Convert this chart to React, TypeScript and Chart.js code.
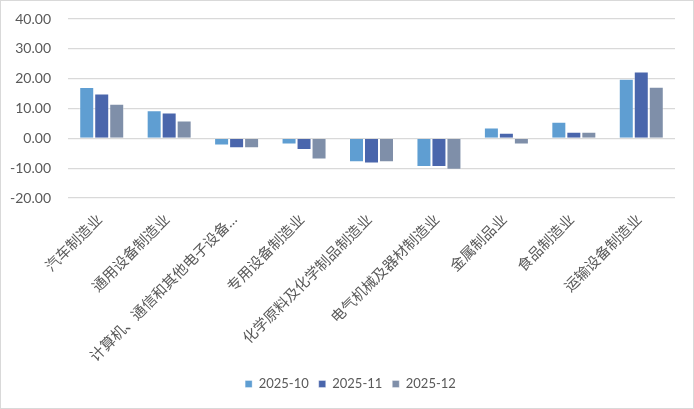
import React, { useEffect, useRef } from "react";
import { Chart, registerables } from "chart.js";

Chart.register(...registerables);

const categories = [
  "汽车制造业",
  "通用设备制造业",
  "计算机、通信和其他电子设备制造业",
  "专用设备制造业",
  "化学原料及化学制品制造业",
  "电气机械及器材制造业",
  "金属制品业",
  "食品制造业",
  "运输设备制造业",
];
const seriesNames = ["2025-10", "2025-11", "2025-12"];
const values202510 = [17.2, 9.4, -2.4, -2.1, -8.05, -9.6, 3.6, 5.6, 20.0];
const values202511 = [15.0, 8.7, -3.3, -3.9, -8.4, -9.6, 1.9, 2.2, 22.4];
const values202512 = [11.6, 6.0, -3.3, -7.1, -8.05, -10.5, -2.1, 2.2, 17.3];
const yMin = -20;
const yMax = 40;
const yStep = 10;

const colors = ["#5F9ED2", "#4A66AC", "#7F8FA9"];
const FONT = "Lato, 'Noto Sans CJK SC', sans-serif";

function truncate(s: string, n: number) {
  return s.length > n ? s.slice(0, n) + "…" : s;
}

export default function App() {
  const ref = useRef<HTMLCanvasElement | null>(null);

  useEffect(() => {
    if (!ref.current) return;
    const series = [values202510, values202511, values202512];
    const chart = new Chart(ref.current, {
      type: "bar",
      data: {
        labels: categories,
        datasets: series.map((vals, i) => ({
          label: seriesNames[i],
          data: vals,
          backgroundColor: colors[i],
          borderColor: "rgba(255,255,255,0.35)",
          borderWidth: 1,
          categoryPercentage: 0.667,
          barPercentage: 1.0,
        })),
      },
      options: {
        animation: false,
        responsive: true,
        maintainAspectRatio: false,
        layout: { padding: { left: 7, right: 0, top: 18, bottom: 7.5 } },
        plugins: {
          tooltip: { enabled: false },
          legend: {
            position: "bottom",
            labels: {
              boxWidth: 7,
              boxHeight: 7,
              padding: 10,
              color: "#595959",
              font: { family: FONT, size: 13 },
            },
          },
        },
        scales: {
          x: {
            type: "category",
            offset: true,
            grid: { display: false, drawTicks: false },
            border: { display: false },
            ticks: {
              autoSkip: false,
              minRotation: 45,
              maxRotation: 45,
              padding: 13,
              labelOffset: -2,
              color: "#595959",
              font: { family: FONT, size: 14.6 },
              callback: function (this: any, v: any) {
                return truncate(String(this.getLabelForValue(v)), 13);
              },
            },
            afterFit: (s: any) => {
              s.height = 169.5;
              s.paddingLeft = 0;
              s.paddingRight = 18;
            },
          },
          y: {
            min: yMin,
            max: yMax,
            grid: { color: "#d9d9d9", lineWidth: 1.3, drawTicks: false },
            border: { display: false },
            ticks: {
              stepSize: yStep,
              padding: 17,
              color: "#595959",
              font: { family: FONT, size: 14 },
              callback: (v: any) => Number(v).toFixed(2),
            },
            afterFit: (s: any) => {
              s.width = 60;
              s.paddingTop = 8;
              s.paddingBottom = 8;
            },
          },
        },
      },
    });
    return () => chart.destroy();
  }, []);

  return (
    <div
      style={{
        position: "fixed",
        left: 0,
        top: 0,
        width: 694,
        height: 409,
        boxSizing: "border-box",
        border: "1px solid #d9d9d9",
        background: "#fff",
      }}
    >
      <div style={{ position: "relative", width: 692, height: 407 }}>
        <canvas ref={ref} />
      </div>
    </div>
  );
}
